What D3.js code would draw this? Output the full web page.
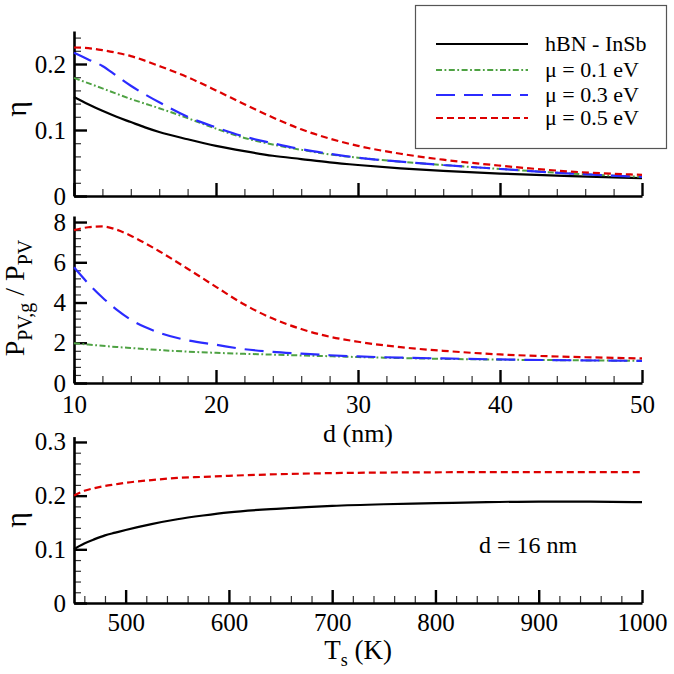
<!DOCTYPE html>
<html>
<head>
<meta charset="utf-8">
<script src="https://cdn.jsdelivr.net/npm/d3@7"></script>
<style>
  @font-face { font-family: "ChartSerif"; src: local("Liberation Serif"), local("LiberationSerif"), local("Liberation Serif Regular"), local("Tinos"), local("Nimbus Roman"); }
</style>
</head>
<body style="margin:0">
<svg id="chart" width="674" height="674" style="display:block;background:#fff"></svg>
<script>
// ---------- DATA ----------
// Panel 1 & 2: versus gap distance d (nm)
const dValues = [10, 11, 12, 13, 14, 15, 16, 18, 20, 22, 24, 26, 28, 30, 33, 36, 40, 45, 50];
const etaHBN  = [0.150, 0.139, 0.129, 0.120, 0.112, 0.104, 0.097, 0.086, 0.076, 0.068, 0.061, 0.056, 0.051, 0.047, 0.042, 0.038, 0.034, 0.030, 0.027];
const etaMu01 = [0.179, 0.171, 0.163, 0.155, 0.147, 0.140, 0.133, 0.118, 0.102, 0.088, 0.078, 0.070, 0.063, 0.058, 0.052, 0.047, 0.041, 0.034, 0.029];
const etaMu03 = [0.217, 0.207, 0.197, 0.182, 0.167, 0.154, 0.142, 0.120, 0.104, 0.090, 0.080, 0.071, 0.064, 0.058, 0.052, 0.047, 0.041, 0.034, 0.029];
const etaMu05 = [0.225, 0.224, 0.221, 0.217, 0.212, 0.205, 0.197, 0.180, 0.160, 0.139, 0.119, 0.101, 0.087, 0.076, 0.064, 0.055, 0.046, 0.037, 0.032];

const ratioMu01 = [1.97, 1.91, 1.85, 1.79, 1.74, 1.69, 1.64, 1.56, 1.50, 1.45, 1.41, 1.37, 1.33, 1.29, 1.24, 1.20, 1.16, 1.13, 1.10];
const ratioMu03 = [5.75, 4.95, 4.25, 3.65, 3.15, 2.78, 2.50, 2.12, 1.90, 1.68, 1.55, 1.46, 1.38, 1.32, 1.26, 1.22, 1.17, 1.13, 1.10];
const ratioMu05 = [7.60, 7.74, 7.78, 7.62, 7.32, 6.95, 6.55, 5.68, 4.78, 3.90, 3.20, 2.68, 2.30, 2.05, 1.78, 1.60, 1.42, 1.30, 1.22];

// Panel 3: versus source temperature Ts (K), d = 16 nm
const tsValues  = [450, 455, 460, 470, 480, 490, 500, 525, 550, 575, 600, 650, 700, 750, 800, 850, 900, 950, 1000];
const etaTsHBN  = [0.100, 0.106, 0.111, 0.119, 0.126, 0.131, 0.136, 0.147, 0.156, 0.163, 0.169, 0.176, 0.181, 0.184, 0.186, 0.188, 0.189, 0.189, 0.188];
const etaTsMu05 = [0.200, 0.205, 0.209, 0.214, 0.218, 0.221, 0.224, 0.229, 0.233, 0.235, 0.237, 0.240, 0.242, 0.243, 0.2435, 0.244, 0.244, 0.244, 0.244];

// Tick values / labels
const dMajorTicks = [10, 20, 30, 40, 50];
const etaTopTicks = [0, 0.1, 0.2];
const ratioTicks = [0, 2, 4, 6, 8];
const tsTicks = [500, 600, 700, 800, 900, 1000];
const etaBottomTicks = [0, 0.1, 0.2, 0.3];

const legendLabels = ["hBN - InSb", "\u03bc = 0.1 eV", "\u03bc = 0.3 eV", "\u03bc = 0.5 eV"];

// ---------- STYLES ----------
const FONT_CSS = '"Liberation Serif", "ChartSerif", "Tinos", "Nimbus Roman", "FreeSerif", "Georgia", "Times New Roman"';
const styles = {
  hbn:  { color: "#000000", dash: null,        width: 2.2 },
  mu01: { color: "#4ea243", dash: "6,2.5,1.8,2.5", width: 2 },
  mu03: { color: "#2b2bff", dash: "19,9",      width: 2.2 },
  mu05: { color: "#dd0000", dash: "7,4",       width: 2.2 }
};

const svg = d3.select("#chart");
const X0 = 74, X1 = 642;
const fontTick = 25;

function setFont(sel, size) {
  return sel.attr("font-family", FONT_CSS).attr("font-size", size)
    .style("font-family", FONT_CSS).style("font-size", size + "px").attr("fill", "#000");
}

function panel(cfg) {
  const g = svg.append("g");
  const x = d3.scaleLinear().domain(cfg.xDomain).range([X0, X1]);
  const y = d3.scaleLinear().domain(cfg.yDomain).range([cfg.yBottom, cfg.yTop]);

  // minor ticks
  g.append("g").attr("transform", `translate(0,${cfg.yBottom})`)
    .call(d3.axisBottom(x).tickValues(cfg.xMinor).tickSize(-7).tickSizeOuter(0).tickFormat(""))
    .call(s => s.select(".domain").remove())
    .call(s => s.selectAll("line").attr("stroke", "#333").attr("stroke-width", 1.2));
  g.append("g").attr("transform", `translate(${X0},0)`)
    .call(d3.axisLeft(y).tickValues(cfg.yMinor).tickSize(-7).tickSizeOuter(0).tickFormat(""))
    .call(s => s.select(".domain").remove())
    .call(s => s.selectAll("line").attr("stroke", "#333").attr("stroke-width", 1.2));

  // major x
  const xa = g.append("g").attr("transform", `translate(0,${cfg.yBottom})`)
    .call(d3.axisBottom(x).tickValues(cfg.xMajor).tickSize(-13).tickSizeOuter(0).tickPadding(cfg.xPad || 12)
      .tickFormat(cfg.xLabels ? d3.format("d") : ""));
  setFont(xa, fontTick);
  xa.select(".domain").attr("stroke", "#000").attr("stroke-width", 2.6);
  xa.selectAll(".tick line").attr("stroke", "#000").attr("stroke-width", 2.4);
  setFont(xa.selectAll("text"), fontTick);

  // major y
  const ya = g.append("g").attr("transform", `translate(${X0},0)`)
    .call(d3.axisLeft(y).tickValues(cfg.yMajor).tickSize(-13).tickSizeOuter(0).tickPadding(8)
      .tickFormat(cfg.yFormat));
  setFont(ya, fontTick);
  ya.select(".domain").attr("stroke", "#000").attr("stroke-width", 2.6);
  ya.selectAll(".tick line").attr("stroke", "#000").attr("stroke-width", 2.4);
  setFont(ya.selectAll("text"), fontTick);

  // curves
  const line = d3.line().x(d => x(d[0])).y(d => y(d[1])).curve(d3.curveMonotoneX);
  cfg.series.forEach(s => {
    const pts = cfg.xs.map((v, i) => [v, s.values[i]]);
    const st = styles[s.key];
    g.append("path").datum(pts)
      .attr("d", line)
      .attr("fill", "none")
      .attr("stroke", st.color)
      .attr("stroke-width", st.width)
      .attr("stroke-dasharray", st.dash)
      .attr("stroke-linecap", "butt");
  });
  return { g, x, y };
}

const fmtEta = d => d === 0 ? "0" : d3.format(".1f")(d);

// Panel 1
panel({
  xDomain: [10, 50], yDomain: [0, 0.25], yBottom: 196, yTop: 31,
  xMajor: dMajorTicks, xMinor: d3.range(12, 50, 2).filter(v => v % 10 !== 0),
  yMajor: etaTopTicks, yMinor: d3.range(1, 13).map(i => +(i * 0.02).toFixed(2)).filter(v => Math.abs(v * 10 - Math.round(v * 10)) > 1e-6),
  xLabels: false, yFormat: fmtEta,
  xs: dValues,
  series: [
    { key: "hbn", values: etaHBN },
    { key: "mu01", values: etaMu01 },
    { key: "mu03", values: etaMu03 },
    { key: "mu05", values: etaMu05 }
  ]
});

// Panel 2
panel({
  xDomain: [10, 50], yDomain: [0, 8.3], yBottom: 383, yTop: 216,
  xMajor: dMajorTicks, xMinor: d3.range(12, 50, 2).filter(v => v % 10 !== 0),
  yMajor: ratioTicks, yMinor: d3.range(1, 21).map(i => +(i * 0.4).toFixed(1)).filter(v => Math.abs(v / 2 - Math.round(v / 2)) > 1e-6),
  xLabels: true, xPad: 12, yFormat: d3.format("d"),
  xs: dValues,
  series: [
    { key: "mu01", values: ratioMu01 },
    { key: "mu03", values: ratioMu03 },
    { key: "mu05", values: ratioMu05 }
  ]
});

// Panel 3
panel({
  xDomain: [450, 1000], yDomain: [0, 0.31], yBottom: 603, yTop: 436.6,
  xMajor: tsTicks, xMinor: d3.range(460, 1000, 20).filter(v => v % 100 !== 0),
  yMajor: etaBottomTicks, yMinor: d3.range(1, 16).map(i => +(i * 0.02).toFixed(2)).filter(v => Math.abs(v * 10 - Math.round(v * 10)) > 1e-6),
  xLabels: true, xPad: 10, yFormat: fmtEta,
  xs: tsValues,
  series: [
    { key: "hbn", values: etaTsHBN },
    { key: "mu05", values: etaTsMu05 }
  ]
});

// ---------- AXIS TITLES ----------
setFont(svg.append("text"), 30).attr("transform", "translate(26,109) rotate(-90)")
  .attr("text-anchor", "middle").text("\u03b7");
setFont(svg.append("text"), 30).attr("transform", "translate(26,520) rotate(-90)")
  .attr("text-anchor", "middle").text("\u03b7");

const pl = setFont(svg.append("text"), 28).attr("transform", "translate(24,298) rotate(-90)")
  .attr("text-anchor", "middle");
pl.append("tspan").text("P");
pl.append("tspan").attr("dy", 8).attr("font-size", 20).style("font-size", "20px").text("PV,g");
pl.append("tspan").attr("dy", -8).text(" / P");
pl.append("tspan").attr("dy", 8).attr("font-size", 20).style("font-size", "20px").text("PV");

setFont(svg.append("text"), 26).attr("x", 358).attr("y", 442).attr("text-anchor", "middle")
  .text("d (nm)");

const tl = setFont(svg.append("text"), 27).attr("x", 358).attr("y", 659).attr("text-anchor", "middle");
tl.append("tspan").text("T");
tl.append("tspan").attr("dy", 7).attr("font-size", 18).style("font-size", "18px").text("s");
tl.append("tspan").attr("dy", -7).text(" (K)");

setFont(svg.append("text"), 24).attr("x", 479).attr("y", 553).text("d = 16 nm");

// ---------- LEGEND ----------
const lg = svg.append("g");
lg.append("rect").attr("x", 415.5).attr("y", 5.5).attr("width", 251).attr("height", 143)
  .attr("fill", "#fff").attr("stroke", "#555").attr("stroke-width", 1.2);
const legendKeys = ["hbn", "mu01", "mu03", "mu05"];
const legendY = [44, 70, 95, 118];
legendKeys.forEach((k, i) => {
  const st = styles[k];
  lg.append("line").attr("x1", 436).attr("x2", 528).attr("y1", legendY[i]).attr("y2", legendY[i])
    .attr("stroke", st.color).attr("stroke-width", st.width).attr("stroke-dasharray", st.dash);
  setFont(lg.append("text"), 22).attr("x", 545).attr("y", legendY[i] + 7).text(legendLabels[i]);
});
</script>
</body>
</html>
